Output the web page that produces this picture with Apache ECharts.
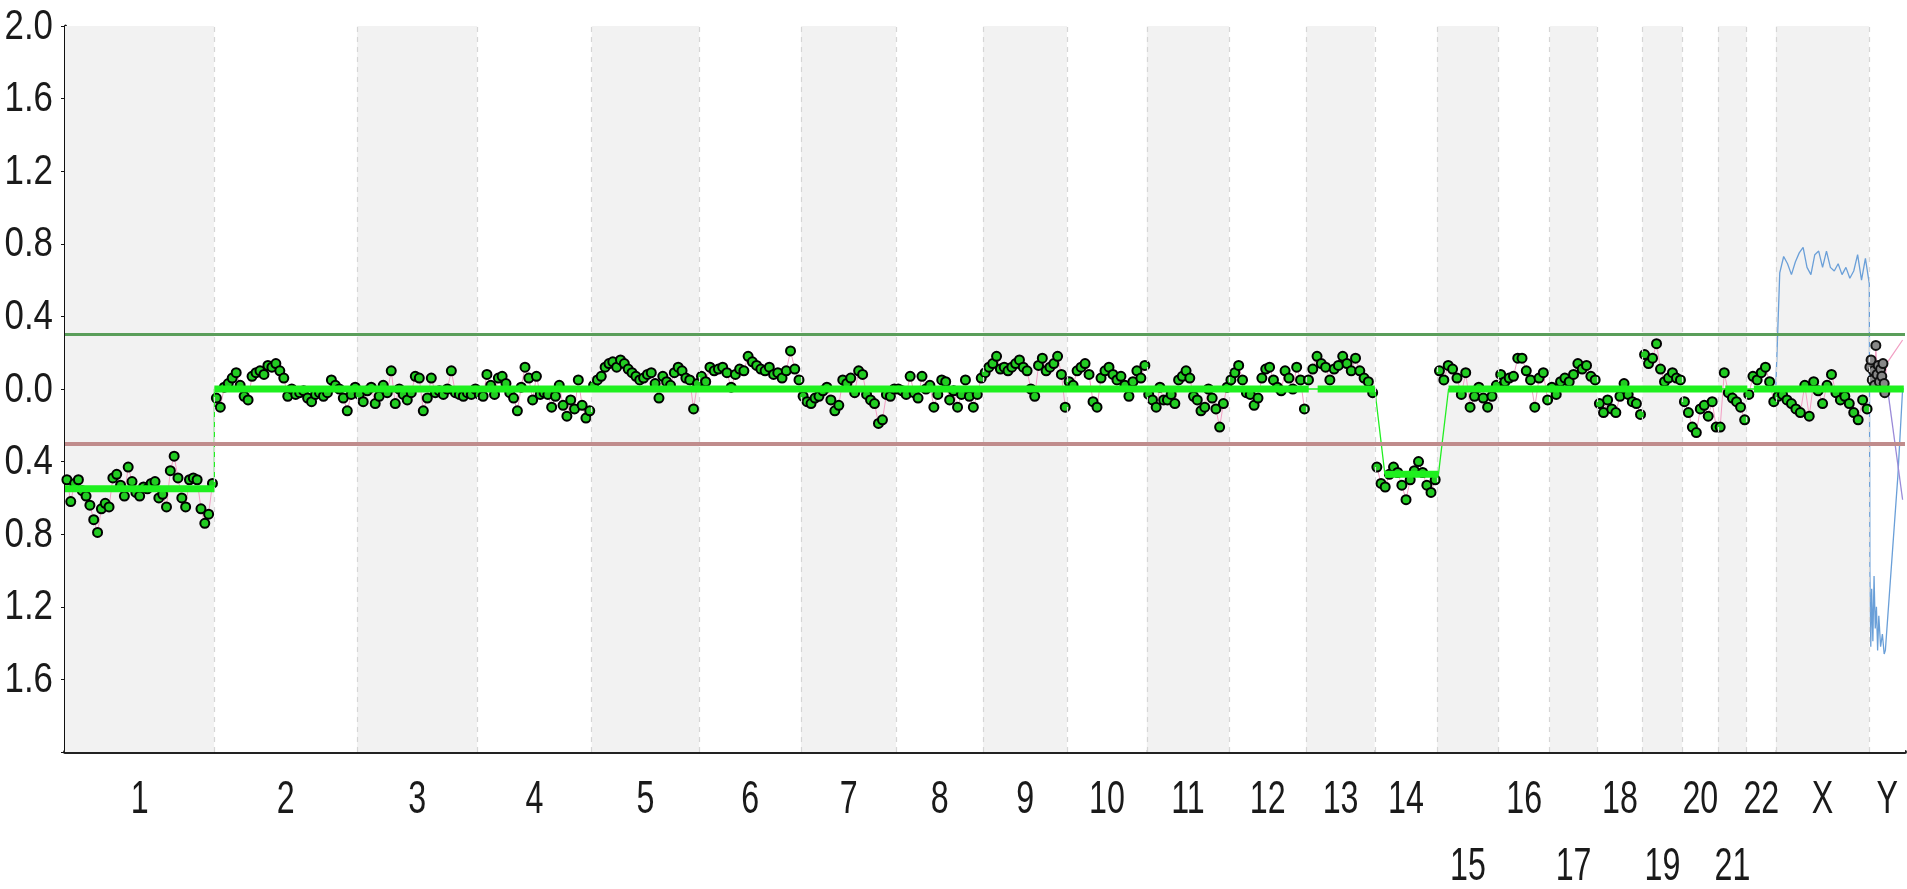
<!DOCTYPE html>
<html><head><meta charset="utf-8">
<script src="https://cdn.jsdelivr.net/npm/echarts@6/dist/echarts.min.js"></script>
<style>html,body{margin:0;padding:0;background:#fff}#c{width:1907px;height:889px}</style>
</head><body><div id="c"></div>
<script>
// ---- data ----
const chrNames = ['1','2','3','4','5','6','7','8','9','10','11','12','13','14','15','16','17','18','19','20','21','22','X','Y'];
const chrLengths = [251,240,202,192,181,171,160,146,141,134,138,130,115,105,103,86,80,76,67,60,48,49,157,60];
const lowerRowLabels = ['15','17','19','21'];
const yTickValues = [-2.0,-1.6,-1.2,-0.8,-0.4,0.0,0.4,0.8,1.2,1.6,2.0];
const gainThreshold = 0.3;
const lossThreshold = -0.3;

const ratioChr1 = [-0.50,-0.62,-0.52,-0.50,-0.56,-0.59,-0.64,-0.72,-0.79,-0.66,-0.63,-0.65,-0.49,-0.47,-0.53,-0.59,-0.43,-0.51,-0.57,-0.59,-0.54,-0.55,-0.52,-0.51,-0.60,-0.58,-0.65,-0.45,-0.37,-0.49,-0.60,-0.65,-0.50,-0.49,-0.50,-0.66,-0.74,-0.69,-0.52];
const ratioChr2 = [-0.05,-0.10,0.01,0.03,0.06,0.09,0.02,-0.04,-0.06,0.07,0.09,0.10,0.08,0.13,0.12,0.14,0.10,0.06,-0.04,0.00,-0.03,-0.02,-0.01,-0.05,-0.07,-0.03,-0.02,-0.04,-0.02,0.05,0.02,0.00,-0.05,-0.12,-0.03,0.01];
const ratioChr3 = [-0.03,-0.07,-0.01,0.01,-0.08,-0.04,0.02,-0.02,0.10,-0.08,0.00,-0.03,-0.06,-0.02,0.07,0.06,-0.12,-0.05,0.06,-0.02,-0.01,-0.03,0.00,0.10,-0.02,-0.03,-0.04,-0.02,-0.03,0.00];
const ratioChr4 = [-0.03,-0.04,0.08,0.02,-0.03,0.06,0.07,0.03,-0.02,-0.05,-0.12,0.01,0.12,0.06,-0.06,0.07,-0.03,-0.02,-0.03,-0.10,-0.04,0.02,-0.09,-0.15,-0.06,-0.11,0.05,-0.09,-0.16,-0.12];
const ratioChr5 = [0.02,0.05,0.07,0.12,0.14,0.15,0.12,0.16,0.14,0.11,0.09,0.07,0.05,0.06,0.08,0.09,0.03,-0.05,0.07,0.04,0.02,0.09,0.12,0.10,0.06,0.05,-0.11,0.03];
const ratioChr6 = [0.07,0.04,0.12,0.10,0.11,0.12,0.09,0.01,0.08,0.11,0.10,0.18,0.15,0.13,0.11,0.10,0.12,0.08,0.09,0.06,0.10,0.21,0.11,0.05];
const ratioChr7 = [-0.04,-0.07,-0.08,-0.05,-0.04,-0.01,0.01,-0.06,-0.12,-0.09,0.05,0.03,0.06,-0.02,0.10,0.08,-0.03,-0.06,-0.08,-0.19,-0.17,-0.03,-0.04,0.00];
const ratioChr8 = [0.00,-0.01,-0.03,0.07,-0.02,-0.05,0.07,0.00,0.02,-0.10,-0.03,0.05,0.04,-0.06,-0.01,-0.10,-0.03,0.05,-0.04,-0.10,-0.03,0.06];
const ratioChr9 = [0.09,0.12,0.14,0.18,0.11,0.12,0.10,0.12,0.14,0.16,0.12,0.10,0.00,-0.04,0.13,0.17,0.10,0.12,0.14,0.18,0.08,-0.10];
const ratioChr10 = [0.04,0.02,0.10,0.12,0.14,0.08,-0.07,-0.10,0.06,0.10,0.12,0.08,0.05,0.07,0.02,-0.04,0.04,0.10,0.06,0.13];
const ratioChr11 = [-0.03,-0.06,-0.10,0.01,-0.06,-0.06,-0.03,-0.08,0.05,0.07,0.10,0.06,-0.04,-0.06,-0.12,-0.10,0.00,-0.05,-0.11,-0.21,-0.08,0.01];
const ratioChr12 = [0.05,0.09,0.13,0.05,-0.02,-0.03,-0.09,-0.05,0.06,0.11,0.12,0.05,0.01,-0.01,0.10,0.06,0.00,0.12,0.05,-0.11];
const ratioChr13 = [0.05,0.11,0.18,0.14,0.12,0.05,0.11,0.13,0.18,0.14,0.10,0.17,0.10,0.06,0.04,-0.02];
const ratioChr14 = [-0.43,-0.52,-0.54,-0.47,-0.43,-0.46,-0.53,-0.61,-0.50,-0.45,-0.40,-0.46,-0.53,-0.57,-0.50];
const ratioChr15 = [0.10,0.05,0.13,0.11,0.06,-0.03,0.09,-0.10,-0.04,0.01,-0.05,-0.10,-0.04,0.02];
const ratioChr16 = [0.08,0.04,0.06,0.07,0.17,0.17,0.10,0.05,-0.10,0.06,0.09,-0.06];
const ratioChr17 = [0.01,-0.03,0.04,0.06,0.04,0.08,0.14,0.11,0.13,0.07,0.05];
const ratioChr18 = [-0.08,-0.13,-0.06,-0.11,-0.13,-0.04,0.03,-0.03,-0.07,-0.08,-0.14];
const ratioChr19 = [0.19,0.14,0.17,0.25,0.11,0.04,0.06,0.09,0.06,0.05];
const ratioChr20 = [-0.07,-0.13,-0.21,-0.24,-0.11,-0.09,-0.15,-0.07,-0.21];
const ratioChr21 = [-0.21,0.09,-0.02,-0.05,-0.07,-0.10,-0.17];
const ratioChr22 = [-0.03,0.07,0.05,0.09,0.12,0.04,-0.07];
const ratioChrX = [-0.04,-0.03,-0.06,-0.08,-0.11,-0.13,0.02,-0.15,0.04,-0.01,-0.08,0.02,0.08,-0.02,-0.06,-0.04,-0.08,-0.13,-0.17,-0.06,-0.11];
const ratioByChr = [ratioChr1,ratioChr2,ratioChr3,ratioChr4,ratioChr5,ratioChr6,ratioChr7,ratioChr8,ratioChr9,ratioChr10,ratioChr11,ratioChr12,ratioChr13,ratioChr14,ratioChr15,ratioChr16,ratioChr17,ratioChr18,ratioChr19,ratioChr20,ratioChr21,ratioChr22,ratioChrX];

// chromosome Y points (position in Mb within Y, ratio)
const chrYPointPos = [1,3,5,7,9,11,13,15,17,19,21,23,25,26];
const chrYPointVal = [0.12,0.16,0.05,0.10,0.02,0.24,0.08,0.13,0.04,0.11,0.07,0.14,0.03,-0.02];

// segmentation (genome Mb)
const segStarts = [0,251,2105,2218,2325,2790,2838];
const segEnds = [251,2090,2201,2308,2785,2827,3090];
const segValues = [-0.55,0,0,-0.47,0,0,0];

// blue trace on X (evenly spread over X) and Y (Mb within Y)
const blueX = [0.02,0.64,0.73,0.69,0.63,0.70,0.75,0.78,0.67,0.63,0.74,0.76,0.67,0.76,0.67,0.65,0.69,0.63,0.67,0.61,0.65,0.74,0.60,0.72,0.58];
const blueYPos = [1,2.5,4,6,8,10,12,14,16,19,22,25,27,48,56];
const blueYVal = [-1.0,-1.42,-1.1,-1.39,-1.03,-1.32,-1.2,-1.44,-1.25,-1.42,-1.35,-1.46,-1.44,-0.48,0.0];
const purpleYPos = [27,56];
const purpleYVal = [0.09,-0.61];
const pinkYPos = [26,29,56];
const pinkYVal = [0.03,0.14,0.27];

// ---- build ----
const offsets = []; let acc = 0;
chrLengths.forEach(l => { offsets.push(acc); acc += l; });
const genomeLen = acc;
const centers = chrLengths.map((l, i) => offsets[i] + l / 2);
const yOff = offsets[23], xOff = offsets[22];

const pointData = [];
ratioByChr.forEach((vals, c) => {
  const n = vals.length;
  vals.forEach((v, i) => pointData.push([offsets[c] + (i + 0.5) * chrLengths[c] / n, v]));
  pointData.push([offsets[c] + chrLengths[c], null]);
});
const yPointData = chrYPointPos.map((p, i) => [yOff + p, chrYPointVal[i]]);

const segThick = [], segThin = [];
segStarts.forEach((s, i) => {
  segThick.push([s, segValues[i]], [segEnds[i], segValues[i]], [segEnds[i], null]);
  segThin.push([s, segValues[i]], [segEnds[i], segValues[i]]);
});

const blueData = blueX.map((v, i) => [xOff + i * chrLengths[22] / (blueX.length - 1), v])
  .concat(blueYPos.map((p, i) => [yOff + p, blueYVal[i]]));
const purpleData = purpleYPos.map((p, i) => [yOff + p, purpleYVal[i]]);
const pinkData = pinkYPos.map((p, i) => [yOff + p, pinkYVal[i]]);

const bands = chrNames.map((n, i) => [
  { xAxis: offsets[i], itemStyle: { color: i % 2 === 0 ? '#f2f2f2' : '#ffffff' } },
  { xAxis: offsets[i] + chrLengths[i] }
]);
const boundaryLines = offsets.slice(1).map(o => ({ xAxis: o }));

const FONT = "'Liberation Sans',Arial,sans-serif";

const chart = echarts.init(document.getElementById('c'), null, { renderer: 'canvas' });
chart.setOption({
  animation: false,
  backgroundColor: '#ffffff',
  grid: { left: 65, right: 2, top: 26, bottom: 137, containLabel: false, outerBoundsMode: 'none' },
  xAxis: {
    type: 'value', min: 0, max: genomeLen,
    axisLine: { show: true, onZero: false, lineStyle: { color: '#222', width: 4 } },
    axisTick: { show: false },
    splitLine: { show: false },
    axisLabel: { show: false }
  },
  yAxis: {
    type: 'value', min: -2, max: 2, interval: 0.4,
    axisLine: { show: true, onZero: false, lineStyle: { color: '#111', width: 3 } },
    axisTick: { show: true, length: 4, lineStyle: { color: '#111', width: 1 } },
    splitLine: { show: false },
    axisLabel: { show: false }
  },
  series: [
    {
      type: 'line', data: [], z: 0, silent: true,
      markArea: { silent: true, data: bands },
      markLine: {
        silent: true, symbol: 'none', label: { show: false },
        lineStyle: { color: '#d6d6d6', type: [5, 5], width: 1.2 },
        data: boundaryLines
      }
    },
    {
      type: 'line', data: [], z: 1, silent: true,
      markLine: {
        silent: true, symbol: 'none', label: { show: false },
        data: [
          { yAxis: gainThreshold, lineStyle: { color: '#5a9e5a', width: 3, type: 'solid' } },
          { yAxis: lossThreshold, lineStyle: { color: '#c08c8c', width: 4, type: 'solid' } }
        ]
      }
    },
    {
      name: 'blue', type: 'line', data: blueData, z: 2, symbol: 'none',
      lineStyle: { color: '#6a9fd8', width: 1.3 }
    },
    {
      name: 'ratio', type: 'line', data: pointData, z: 3,
      symbol: 'circle', symbolSize: 9,
      itemStyle: { color: '#22cc22', borderColor: '#000', borderWidth: 2 },
      lineStyle: { color: '#f2a0c4', width: 1 }
    },
    {
      name: 'ratioY', type: 'line', data: yPointData, z: 3,
      symbol: 'circle', symbolSize: 9,
      itemStyle: { color: '#888', borderColor: '#111', borderWidth: 2 },
      lineStyle: { color: '#f2a0c4', width: 1 }
    },
    {
      name: 'pink', type: 'line', data: pinkData, z: 3, symbol: 'none',
      lineStyle: { color: '#f2a0c4', width: 1.3 }
    },
    {
      name: 'purple', type: 'line', data: purpleData, z: 3, symbol: 'none',
      lineStyle: { color: '#9a8ad8', width: 1.3 }
    },
    {
      name: 'segThin', type: 'line', data: segThin, z: 4, symbol: 'none',
      lineStyle: { color: '#22ee22', width: 1.3 }
    },
    {
      name: 'segThick', type: 'line', data: segThick, z: 5, symbol: 'none',
      lineStyle: { color: '#1ef01e', width: 7, cap: 'butt' }
    }
  ]
});

// condensed axis labels, positioned through the axes' own scales
const axisX0 = chart.convertToPixel({ xAxisIndex: 0 }, 0);
const axisYBottom = chart.convertToPixel({ yAxisIndex: 0 }, -2);
const labelEls = [];
yTickValues.forEach(v => {
  if (v <= -1.99) return;
  labelEls.push({
    type: 'text', silent: true, z: 10,
    x: axisX0 - 12, y: chart.convertToPixel({ yAxisIndex: 0 }, v) + 1, scaleX: 0.83,
    style: { text: Math.abs(v).toFixed(1), fontSize: 42, fontFamily: FONT, fill: '#1a1a1a', align: 'right', verticalAlign: 'middle' }
  });
});
centers.forEach((c, i) => {
  const lower = lowerRowLabels.includes(chrNames[i]);
  labelEls.push({
    type: 'text', silent: true, z: 10,
    x: chart.convertToPixel({ xAxisIndex: 0 }, c), y: axisYBottom + (lower ? 115 : 48), scaleX: 0.7,
    style: { text: chrNames[i], fontSize: 46, fontFamily: FONT, fill: '#1a1a1a', align: 'center', verticalAlign: 'middle' }
  });
});
chart.setOption({ graphic: { elements: labelEls } });
</script></body></html>
